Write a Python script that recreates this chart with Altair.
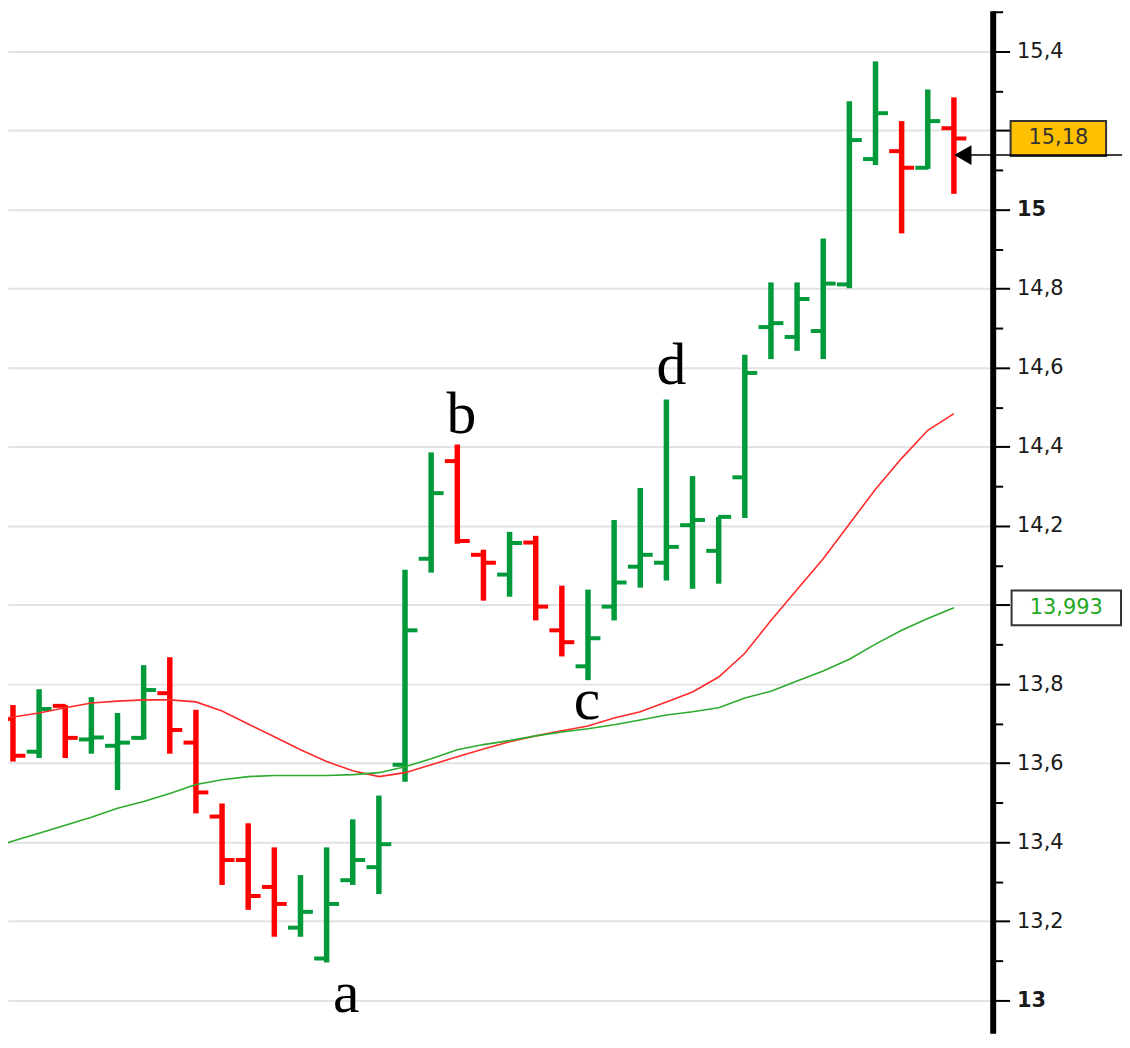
import altair as alt
import pandas as pd

# ---- OHLC bars (index 0..36) ----
bar_idx = list(range(37))
opens = [13.712, 13.629, 13.745, 13.660, 13.644, 13.664, 13.777, 13.652, 13.465, 13.355,
         13.287, 13.184, 13.106, 13.304, 13.337, 13.596, 14.117, 14.364, 14.127, 14.077,
         14.158, 13.936, 13.845, 13.996, 14.097, 14.107, 14.202, 14.137, 14.323, 14.703,
         14.678, 14.693, 14.811, 15.128, 15.148, 15.106, 15.206]
highs = [13.747, 13.787, 13.747, 13.767, 13.727, 13.848, 13.868, 13.735, 13.498, 13.448,
         13.387, 13.317, 13.387, 13.458, 13.518, 14.089, 14.386, 14.406, 14.140, 14.185,
         14.175, 14.049, 14.039, 14.215, 14.296, 14.520, 14.326, 14.223, 14.633, 14.816,
         14.816, 14.927, 15.274, 15.375, 15.224, 15.304, 15.284]
lows = [13.604, 13.613, 13.613, 13.624, 13.532, 13.660, 13.624, 13.473, 13.292, 13.229,
        13.161, 13.161, 13.096, 13.292, 13.269, 13.553, 14.082, 14.155, 14.011, 14.021,
        13.961, 13.870, 13.810, 13.961, 14.044, 14.062, 14.041, 14.054, 14.220, 14.622,
        14.643, 14.622, 14.801, 15.113, 14.940, 15.103, 15.040]
closes = [13.619, 13.737, 13.664, 13.665, 13.652, 13.785, 13.684, 13.526, 13.355, 13.264,
          13.244, 13.224, 13.244, 13.355, 13.395, 13.936, 14.283, 14.162, 14.107, 14.157,
          13.996, 13.906, 13.916, 14.057, 14.127, 14.147, 14.215, 14.223, 14.587, 14.713,
          14.774, 14.813, 15.176, 15.244, 15.106, 15.224, 15.180]

# ---- moving averages (index -1..36) ----
ma_idx = list(range(-1, 37))
ma_fast = [13.704, 13.717, 13.727, 13.740, 13.752, 13.757, 13.760, 13.760, 13.755, 13.732,
           13.699, 13.667, 13.634, 13.604, 13.581, 13.566, 13.576, 13.596, 13.616, 13.636,
           13.654, 13.669, 13.682, 13.694, 13.714, 13.730, 13.755, 13.780, 13.818, 13.878,
           13.961, 14.039, 14.117, 14.205, 14.293, 14.371, 14.442, 14.484]
ma_slow = [13.382, 13.403, 13.423, 13.443, 13.463, 13.486, 13.503, 13.523, 13.546, 13.558,
           13.566, 13.569, 13.569, 13.569, 13.571, 13.576, 13.591, 13.611, 13.634, 13.647,
           13.657, 13.669, 13.679, 13.687, 13.697, 13.709, 13.722, 13.730, 13.740, 13.765,
           13.782, 13.808, 13.833, 13.863, 13.901, 13.936, 13.966, 13.993]

# ---- axis ticks ----
tick_values = [13.0, 13.1, 13.2, 13.3, 13.4, 13.5, 13.6, 13.7, 13.8, 13.9,
               14.0, 14.1, 14.2, 14.3, 14.4, 14.5, 14.6, 14.7, 14.8, 14.9,
               15.0, 15.1, 15.2, 15.3, 15.4, 15.5]
# labels covered by the price boxes in the reference
hidden_labels = [14.0, 15.2]

# ---- annotations ----
ann_text = ["a", "b", "c", "d"]
ann_x = [12.75, 17.16, 21.96, 25.19]
ann_y = [12.970, 14.436, 13.712, 14.560]

last_price = [15.18]
last_label = ["15,18"]
ma_value = [13.993]
ma_label = ["13,993"]
arrow_level = [15.138]

GREEN = "#009a3a"
RED = "#ff0000"

bars_df = pd.DataFrame({"i": bar_idx, "open": opens, "high": highs, "low": lows, "close": closes})
bars_df["dir"] = ["up" if c >= o else "down" for o, c in zip(opens, closes)]
ma_df = pd.DataFrame({"i": ma_idx, "fast": ma_fast, "slow": ma_slow})
ann_df = pd.DataFrame({"t": ann_text, "i": ann_x, "v": ann_y})
price_df = pd.DataFrame({"v": last_price, "label": last_label})
mav_df = pd.DataFrame({"v": ma_value, "label": ma_label})
arrow_df = pd.DataFrame({"v": arrow_level})

x_scale = alt.Scale(domain=[-0.190, 37.484], nice=False, zero=False)
y_scale = alt.Scale(domain=[12.9169, 15.5031], nice=False, zero=False)

major = "abs(round(datum.value*10)) % 2 == 0"
hidden_test = " || ".join(f"round(datum.value*10) == {int(round(h * 10))}" for h in hidden_labels)
y_axis = alt.Axis(
    orient="right",
    values=tick_values,
    title=None,
    labelExpr=f"(round(datum.value*10) % 2 == 0) && !({hidden_test}) ? replace(format(datum.value, '.1~f'), '.', ',') : ''",
    labelFont="DejaVu Sans",
    labelFontSize=21,
    labelColor="#1a1a1a",
    labelFontWeight={"condition": {"test": "round(datum.value*10) % 10 == 0", "value": "bold"}, "value": "normal"},
    labelPadding=7,
    tickSize={"condition": {"test": major, "value": 17}, "value": 10},
    tickColor="black",
    tickWidth=2,
    domainColor="black",
    domainWidth=6,
    grid=True,
    gridColor="#e2e2e2",
    gridWidth=2,
    gridOpacity={"condition": {"test": major, "value": 1}, "value": 0},
)

xenc = alt.X("i:Q", scale=x_scale, axis=None)
color_enc = alt.Color("dir:N", scale=alt.Scale(domain=["up", "down"], range=[GREEN, RED]), legend=None)

def Y(field):
    return alt.Y(field, scale=y_scale, axis=y_axis, title=None)

rules = alt.Chart(bars_df).mark_rule(strokeWidth=5.5).encode(
    x=xenc, y=Y("low:Q"), y2="high:Q", color=color_enc)
open_ticks = alt.Chart(bars_df).mark_tick(orient="horizontal", size=13, thickness=4, xOffset=-6,
                                          opacity=1).encode(
    x=xenc, y=Y("open:Q"), color=color_enc)
close_ticks = alt.Chart(bars_df).mark_tick(orient="horizontal", size=13, thickness=4, xOffset=6,
                                           opacity=1).encode(
    x=xenc, y=Y("close:Q"), color=color_enc)

line_fast = alt.Chart(ma_df).mark_line(clip=True, color="#ff2a2a", strokeWidth=1.6).encode(
    x=xenc, y=Y("fast:Q"))
line_slow = alt.Chart(ma_df).mark_line(clip=True, color="#2eaa2e", strokeWidth=1.6).encode(
    x=xenc, y=Y("slow:Q"))

letters = alt.Chart(ann_df).mark_text(font="Liberation Serif", fontSize=60, baseline="alphabetic",
                                      align="center", color="black").encode(
    x=xenc, y=Y("v:Q"), text="t:N")

price_box = alt.Chart(price_df).transform_calculate(
    top="datum.v + 0.044", bot="datum.v - 0.044"
).mark_rect(fill="#ffc000", stroke="#333333", strokeWidth=2).encode(
    x=alt.value(1008), x2=alt.value(1104), y=Y("top:Q"), y2="bot:Q")
price_text = alt.Chart(price_df).mark_text(font="DejaVu Sans", fontSize=21, color="#333333",
                                           align="center", baseline="middle").encode(
    x=alt.value(1056), y=Y("v:Q"), text="label:N")

ma_box = alt.Chart(mav_df).transform_calculate(
    top="datum.v + 0.044", bot="datum.v - 0.044"
).mark_rect(fill="white", stroke="#333333", strokeWidth=2).encode(
    x=alt.value(1009), x2=alt.value(1119), y=Y("top:Q"), y2="bot:Q")
ma_text = alt.Chart(mav_df).mark_text(font="DejaVu Sans", fontSize=21, color="#22a822",
                                      align="center", baseline="middle").encode(
    x=alt.value(1064), y=Y("v:Q"), text="label:N")

arrow_line = alt.Chart(arrow_df).mark_rule(color="black", strokeWidth=1.5).encode(
    x=alt.value(952), x2=alt.value(1122), y=Y("v:Q"))
arrow_head = alt.Chart(arrow_df).mark_point(shape="triangle-left", size=400, filled=True,
                                            color="black", opacity=1).encode(
    x=alt.value(960), y=Y("v:Q"))

chart = alt.layer(
    rules, open_ticks, close_ticks, line_fast, line_slow, letters,
    price_box, price_text, ma_box, ma_text, arrow_line, arrow_head
).properties(
    width=990, height=1028,
    autosize=alt.AutoSizeParams(type="none"),
    padding={"left": 0, "right": 130, "top": 0, "bottom": 0},
    background="white",
).configure_view(stroke=None)

chart.save("out.html", embed_options={"renderer": "svg", "actions": False})
